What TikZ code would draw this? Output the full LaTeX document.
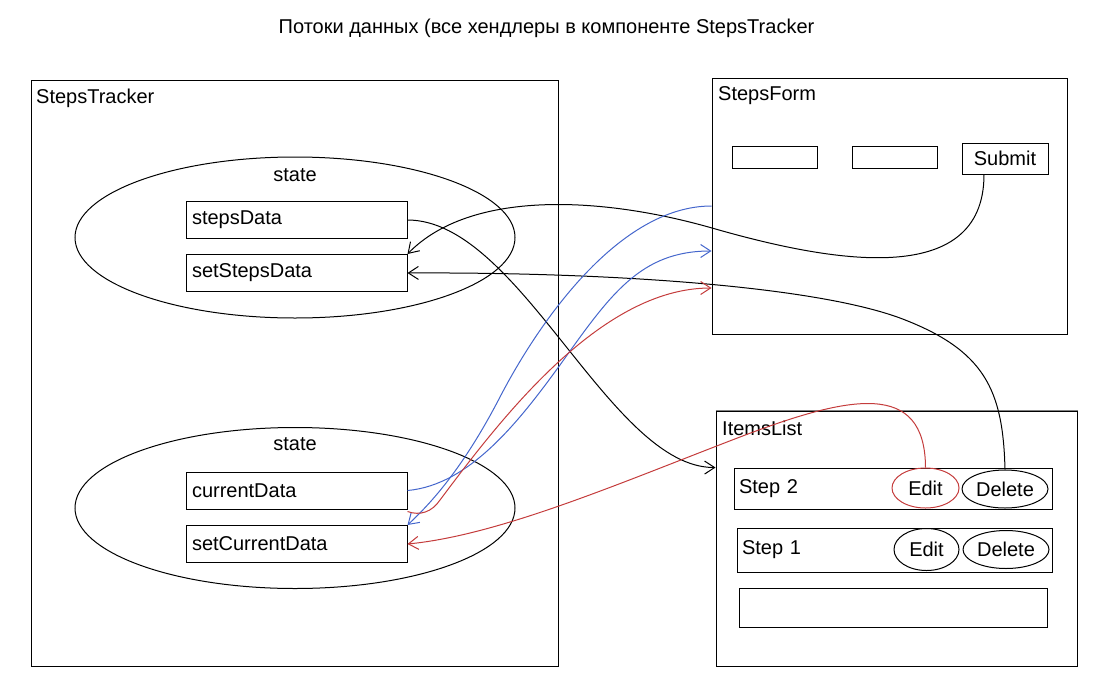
\documentclass[tikz,border=0pt]{standalone}
\usepackage{fontspec}
\setmainfont{Liberation Sans}
\usetikzlibrary{arrows.meta,shapes.geometric,calc}
\definecolor{flowblue}{RGB}{68,102,204}
\definecolor{flowred}{RGB}{196,60,60}
\definecolor{edgegray}{RGB}{128,128,128}
\begin{document}
\begin{tikzpicture}[x=1pt,y=-1pt,
  font=\fontsize{20}{24}\selectfont,
  box/.style={draw, line width=1pt, rectangle, inner sep=0pt},
  container/.style={box},
  field/.style={box, minimum width=221pt, minimum height=37pt, text width=209pt, align=left, inner xsep=6pt, inner ysep=0pt},
  row/.style={box, align=left, inner xsep=5pt, inner ysep=0pt},
  stateoval/.style={draw, line width=1pt, ellipse, inner sep=0pt, minimum width=440pt, minimum height=161pt},
  btn/.style={draw, line width=1pt, ellipse, inner sep=0pt},
  lbl/.style={inner sep=0pt},
  conn/.style={line width=1pt, -{Straight Barb[length=10pt,width=13pt,line width=1pt]}}
]
\useasboundingbox (0,0) rectangle (1097,691);

% title
\node[lbl] (title) at (546.5,28) {Потоки данных (все хендлеры в компоненте StepsTracker};

% containers
\node[container, minimum width=527pt, minimum height=586pt] (tracker) at (294.5,373) {};
\node[lbl, anchor=west] (trackerlbl) at (36,98) {StepsTracker};
\node[container, minimum width=355pt, minimum height=256pt] (form) at (889.5,206) {};
\node[lbl, anchor=west] (formlbl) at (718,96) {StepsForm};
\node[container, minimum width=361pt, minimum height=255pt] (items) at (896.5,538.5) {};
\draw[edgegray, line width=1.6pt] (items.north west) -- (items.north east);
\node[lbl, anchor=west] (itemslbl) at (722,428) {ItemsList};

% state ovals
\node[stateoval] (state1) at (295,237.5) {};
\node[lbl] (state1lbl) at (295,175) {state};
\node[field] (sd) at (296.5,220) {stepsData};
\node[field] (ss) at (296.5,273) {setStepsData};

\node[stateoval] (state2) at (295,508) {};
\node[lbl] (state2lbl) at (295,444) {state};
\node[field] (cd) at (296.5,490.5) {currentData};
\node[field] (sc) at (296.5,544) {setCurrentData};

% form contents
\node[box, minimum width=85pt, minimum height=22pt] (in1) at (774.5,157) {};
\node[box, minimum width=85pt, minimum height=22pt] (in2) at (894.5,157) {};
\node[box, minimum width=86pt, minimum height=31pt] (submit) at (1005,158.5) {Submit};

% items contents
\node[row, minimum width=318pt, minimum height=41pt, text width=308pt] (s2row) at (893,488.5) {Step 2};
\node[row, minimum width=315pt, minimum height=44pt, text width=305pt] (s1row) at (894.5,550) {Step 1};
\node[box, minimum width=308pt, minimum height=39pt] (emptyrow) at (893,607.5) {};

\node[btn, flowred, text=black, minimum width=67pt, minimum height=40pt] (edit2) at (925.5,488) {Edit};
\node[btn, minimum width=86pt, minimum height=38pt] (del2) at (1005,489) {Delete};
\node[btn, minimum width=65pt, minimum height=42pt] (edit1) at (926.5,549.5) {Edit};
\node[btn, minimum width=86pt, minimum height=38pt] (del1) at (1006,549.5) {Delete};

% connectors
\draw[conn] (sd.east) .. controls (520,220) and (610,468) .. (items.west |- s2row.north);
\draw[conn] ([xshift=-21pt]submit.south) .. controls (984,290) and (830,262) .. (712,228)
  .. controls (600,196) and (470,190) .. (ss.north east);
\draw[conn] (del2.north) .. controls (1003,390) and (985,350) .. (900,318)
  .. controls (810,285) and (600,272) .. (ss.east);

\draw[conn, flowblue] (form.west) .. controls (620,206) and (540,320) .. (500,397)
  .. controls (470,455) and (440,495) .. (sc.north east);
\draw[conn, flowblue] (cd.east) .. controls (470,485) and (520,420) .. (560,365)
  .. controls (610,295) and (640,251) .. ([yshift=-45pt]form.west);

\draw[conn, flowred] ([yshift=-2pt]cd.south east) .. controls (420,516) and (432,512) .. (440,500)
  .. controls (500,420) and (600,288) .. ([yshift=-82pt]form.west);
\draw[conn, flowred] (edit2.north) .. controls (925,380) and (850,395) .. (740,437)
  .. controls (620,483) and (500,535) .. (sc.east);
\end{tikzpicture}
\end{document}
